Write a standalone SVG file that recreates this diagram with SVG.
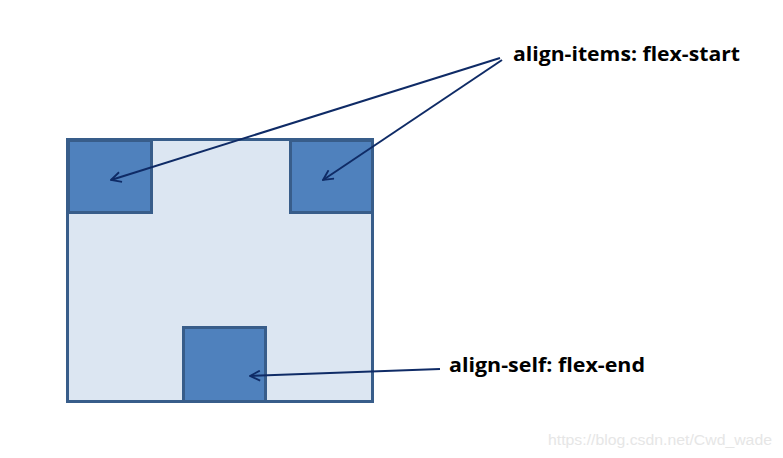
<svg xmlns="http://www.w3.org/2000/svg" width="783" height="458" viewBox="0 0 783 458">
<defs>
<marker id="arr" viewBox="0 0 12 12" refX="11" refY="6" markerWidth="12" markerHeight="12" markerUnits="userSpaceOnUse" orient="auto">
<path d="M1,1 L11,6 L1,11" fill="none" stroke="#0f2b66" stroke-width="1.8"/>
</marker>
<style>
.box{fill:#4f81bd;stroke:#385d8a;stroke-width:3}
.cont{fill:#dce6f2;stroke:#385d8a;stroke-width:3}
.lbl{font-family:"Open Sans","Liberation Sans",sans-serif;font-weight:bold;font-size:20px;fill:#000}
.conn{stroke:#0f2b66;stroke-width:2;fill:none;marker-end:url(#arr)}
</style>
</defs>
<rect width="783" height="458" fill="#fff"/>
<g id="container"><rect class="cont" x="67.5" y="139.5" width="305" height="262"/></g>
<g id="item1"><rect class="box" x="68.5" y="140.5" width="83" height="72"/></g>
<g id="item2"><rect class="box" x="290.5" y="140.5" width="82" height="72"/></g>
<g id="item3"><rect class="box" x="183.5" y="327.5" width="82" height="74"/></g>
<g id="connectors">
<line class="conn" x1="500" y1="58" x2="111" y2="180"/>
<line class="conn" x1="502" y1="60" x2="323" y2="180"/>
<line class="conn" x1="440" y1="369" x2="250" y2="376"/>
</g>
<g id="label1"><text class="lbl" x="513" y="61" textLength="227" lengthAdjust="spacingAndGlyphs">align-items: flex-start</text></g>
<g id="label2"><text class="lbl" x="449" y="372" textLength="196" lengthAdjust="spacingAndGlyphs">align-self: flex-end</text></g>
<text x="548" y="445" font-family="Liberation Sans, Arial, sans-serif" font-size="14" fill="#e6e6e6" textLength="224" lengthAdjust="spacingAndGlyphs">https://blog.csdn.net/Cwd_wade</text>
</svg>
